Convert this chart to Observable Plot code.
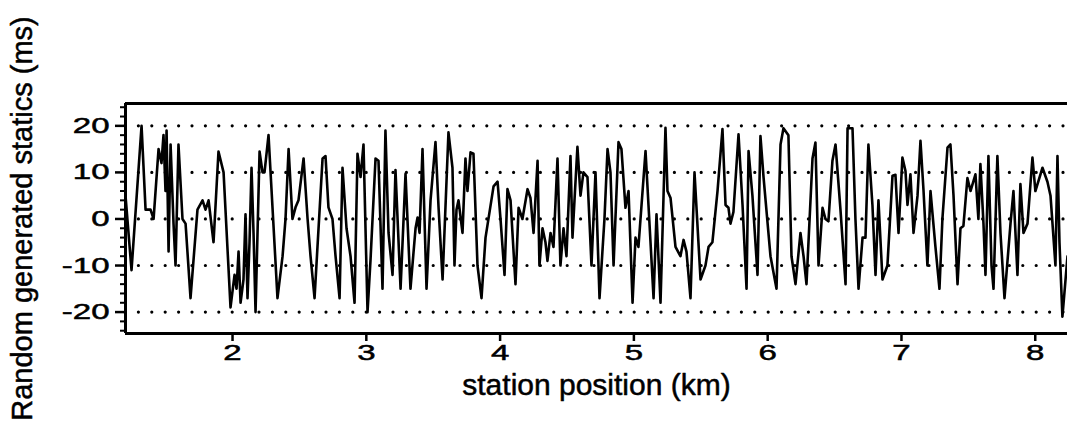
<!DOCTYPE html>
<html><head><meta charset="utf-8">
<script src="https://cdn.jsdelivr.net/npm/d3@7"></script>
<script src="https://cdn.jsdelivr.net/npm/@observablehq/plot@0.6"></script>
<style>body{margin:0;background:#fff}</style>
</head><body><div id="chart"></div>
<script>
const stationKm = [1.200,1.245,1.320,1.350,1.387,1.410,1.447,1.469,1.484,1.499,1.507,1.522,1.537,1.559,1.574,1.596,1.626,1.649,1.686,1.738,1.776,1.798,1.821,1.858,1.895,1.933,1.985,2.015,2.030,2.045,2.060,2.082,2.097,2.112,2.127,2.142,2.157,2.172,2.202,2.224,2.239,2.269,2.336,2.374,2.396,2.419,2.448,2.471,2.493,2.531,2.561,2.583,2.613,2.673,2.695,2.717,2.747,2.770,2.800,2.822,2.852,2.882,2.912,2.934,2.957,2.979,3.009,3.031,3.069,3.091,3.121,3.143,3.166,3.196,3.218,3.256,3.293,3.330,3.368,3.383,3.398,3.420,3.450,3.480,3.517,3.540,3.570,3.614,3.644,3.659,3.674,3.689,3.719,3.741,3.756,3.779,3.801,3.831,3.861,3.891,3.951,3.981,4.003,4.033,4.055,4.078,4.115,4.138,4.167,4.205,4.227,4.250,4.280,4.294,4.317,4.339,4.354,4.377,4.399,4.429,4.451,4.474,4.496,4.526,4.541,4.556,4.578,4.601,4.623,4.653,4.683,4.713,4.743,4.780,4.803,4.825,4.848,4.885,4.907,4.937,4.960,4.990,5.012,5.034,5.087,5.109,5.147,5.169,5.199,5.236,5.251,5.274,5.311,5.348,5.371,5.393,5.423,5.453,5.498,5.535,5.558,5.587,5.625,5.662,5.685,5.707,5.722,5.744,5.782,5.812,5.842,5.857,5.886,5.924,5.946,5.969,6.021,6.066,6.096,6.118,6.155,6.178,6.208,6.245,6.268,6.290,6.335,6.357,6.380,6.410,6.432,6.454,6.484,6.507,6.544,6.582,6.597,6.634,6.656,6.679,6.709,6.731,6.753,6.783,6.806,6.828,6.858,6.895,6.933,6.955,6.978,7.007,7.030,7.045,7.067,7.090,7.120,7.142,7.165,7.194,7.217,7.254,7.284,7.306,7.344,7.366,7.389,7.419,7.441,7.463,7.493,7.516,7.553,7.575,7.590,7.613,7.628,7.650,7.673,7.688,7.717,7.740,7.770,7.815,7.837,7.867,7.889,7.912,7.942,7.979,8.001,8.054,8.091,8.114,8.151,8.166,8.181,8.203,8.241];
const staticsMs = [5,-11,20,2,2,0,15,12,18,6,19,-7,16,-1,-10,16,0,-1,-17,2,4,2,4,-5,14.5,10,-19,-12,-15,-7,-18,-13,1,-17,-5,11,-3,-20,14.5,10,10,18,-17,-8,0,15,0,2.5,4,13,0,-8,-17,13,13.5,2.5,0,-8,-17,11,-2,-8,-18,14,9,16,-20,-9,13,12.5,-15,19,-3,-12,10.5,-15,9.7,-15,-2,0.3,-3,15,-15,4,16.5,2.4,-13,18.6,11,-10,2,4,-3,13,6,14.3,14,-10,-17,-4,7,8,0,-12,6.4,4,-14,2.4,0,6.4,4.5,-3,12.5,-10,-2,-5,-9,-3,-6,13,-10,-2,-8,13.5,-4,4,15.5,5,10,9,-10,10,-17,0,15,10,-10,16.5,15,2.4,6,-18,-4,-6,14.6,3,-17,1,-18,19.6,6,4.5,-6,-8,-4.5,-7,-17,10,-13,-10,-6,-5,6,19.3,3,2.4,-1,1.5,18.2,3,-15,14.6,5,-12,17.8,9,-8,-15,16,19.5,18,-8,-14,-3,-8,-14,13,16.4,-10,2.4,0,-0.5,12.5,16,2,-14,19.5,19.5,0,-15,-4,-4,16,3,-12,4,-13,-10,9.3,9.5,-3,13.2,10.3,3,9.6,-3,5,16.8,6,-10,6,-6,-15,0,15.3,16,5,-14,-2,-1.5,8.8,6,9.6,0,11.8,-1,-12,13.5,-10,-15,13.5,-3,-17,-1,6,-12,7.5,-3,-1,13.2,6,11,8,5,-10,13.5,-5,-21,-8];
const gridValues = [-20, -10, 0, 10, 20];
const yTickValues = [-20, -10, 0, 10, 20];
const yMinorTickValues = [-24, -22, -18, -16, -14, -12, -8, -6, -4, -2, 2, 4, 6, 8, 12, 14, 16, 18, 22, 24];
const xTickValues = [2, 3, 4, 5, 6, 7, 8];
const xDomain = [1.2, 8.241];
const yDomain = [-24.6, 24.8];
const xTitle = "station position (km)";
const yTitle = "Random generated statics (ms)";

const data = stationKm.map((x, i) => ({x, y: staticsMs[i]}));
const font = "'Liberation Sans', Arial, Helvetica, sans-serif";
const plain = d => String(d);

const chart = Plot.plot({
  width: 1067, height: 428,
  marginLeft: 125, marginRight: 0, marginTop: 103, marginBottom: 95,
  style: {fontFamily: font, background: "white", color: "black"},
  x: {domain: xDomain},
  y: {domain: yDomain},
  marks: [
    Plot.ruleY(gridValues, {stroke: "black", strokeWidth: 3.2, strokeDasharray: "0,13.4", strokeLinecap: "round"}),
    Plot.line(data, {x: "x", y: "y", stroke: "black", strokeWidth: 2.6}),
    Plot.ruleY([yDomain[1]], {stroke: "black", strokeWidth: 3}),
    Plot.ruleY([yDomain[0]], {stroke: "black", strokeWidth: 3}),
    Plot.ruleX([xDomain[0]], {stroke: "black", strokeWidth: 3}),
    Plot.axisY({ticks: yTickValues, tickFormat: plain, tickSize: 10, tickPadding: 6, fontSize: 22, label: null, strokeWidth: 2.5}),
    Plot.axisY({ticks: yMinorTickValues, tickSize: 5, text: null, label: null, strokeWidth: 2}),
    Plot.axisX({ticks: xTickValues, tickFormat: plain, tickSize: 8, tickPadding: 3, fontSize: 22, label: null, strokeWidth: 2.5}),
    Plot.text([yTitle], {frameAnchor: "left", dx: -103, rotate: -90, fontSize: 29, textAnchor: "middle", lineAnchor: "middle", fill: "black", stroke: "black", strokeWidth: 0.5}),
    Plot.text([xTitle], {frameAnchor: "bottom", dy: 52, fontSize: 30, textAnchor: "middle", lineAnchor: "middle", fill: "black", stroke: "black", strokeWidth: 0.5})
  ]
});
const svg = chart.tagName.toLowerCase() === "svg" ? chart : chart.querySelector("svg");
d3.select(svg).selectAll('g[aria-label="y-axis tick label"] text, g[aria-label="x-axis tick label"] text')
  .attr("transform", function () { return (this.getAttribute("transform") || "") + " scale(1.5,1)"; })
  .attr("stroke", "black").attr("stroke-width", 0.5);
document.getElementById("chart").appendChild(chart);
</script>
</body></html>
